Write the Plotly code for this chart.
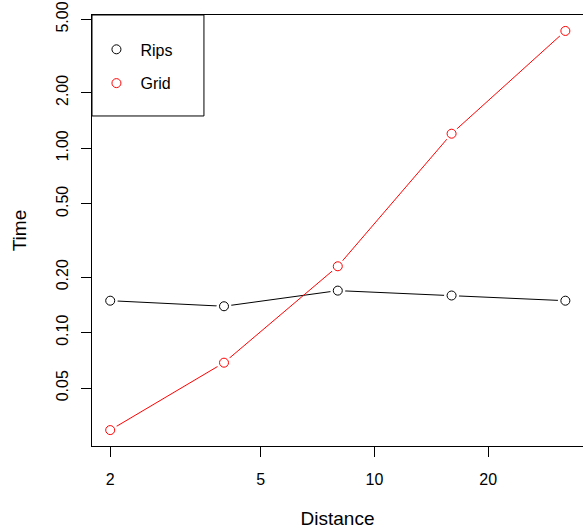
import plotly.graph_objects as go

distance = [2, 4, 8, 16, 32]
rips = [0.149, 0.139, 0.169, 0.159, 0.149]
grid = [0.0296, 0.0687, 0.229, 1.2, 4.33]

x_ticks = [2, 5, 10, 20]
x_ticktext = ["2", "5", "10", "20"]
y_ticks = [0.05, 0.1, 0.2, 0.5, 1, 2, 5]
y_ticktext = ["0.05", "0.10", "0.20", "0.50", "1.00", "2.00", "5.00"]

FONT = "Liberation Sans, Arial, Helvetica, sans-serif"

fig = go.Figure()

for name, vals, col in [("Rips", rips, "black"), ("Grid", grid, "red")]:
    fig.add_trace(go.Scatter(x=distance, y=vals, mode="lines",
                             line=dict(color=col, width=1), showlegend=False,
                             hoverinfo="skip"))
    # white halo to emulate R type="b" gaps
    fig.add_trace(go.Scatter(x=distance, y=vals, mode="markers",
                             marker=dict(symbol="circle", size=15, color="white",
                                         line=dict(width=0)),
                             showlegend=False, hoverinfo="skip"))
    fig.add_trace(go.Scatter(x=distance, y=vals, mode="markers", name=name,
                             marker=dict(symbol="circle-open", size=9, color=col,
                                         line=dict(width=1, color=col)),
                             showlegend=False))

for i, (name, col) in enumerate([("Rips", "black"), ("Grid", "red")]):
    fig.add_trace(go.Scatter(x=[None], y=[None], mode="markers", name=name,
                             legendgroup=name,
                             marker=dict(symbol="circle-open", size=9, color=col,
                                         line=dict(width=1, color=col))))

fig.add_shape(type="rect", xref="paper", yref="paper",
              x0=0, x1=0.228, y0=0.7657, y1=1,
              line=dict(color="black", width=1), fillcolor="rgba(0,0,0,0)")

fig.update_layout(
    width=583, height=531,
    margin=dict(l=92, r=0, t=15, b=85),
    paper_bgcolor="white", plot_bgcolor="white",
    font=dict(family=FONT, size=16, color="black"),
    showlegend=True,
    legend=dict(x=0.0009, y=0.9596, xanchor="left", yanchor="top",
                bgcolor="rgba(0,0,0,0)", borderwidth=0, itemwidth=38,
                font=dict(size=16), traceorder="grouped", tracegroupgap=10),
    xaxis=dict(type="log", range=[0.252865, 1.5518],
               tickvals=x_ticks, ticktext=x_ticktext,
               showgrid=False, zeroline=False,
               showline=True, linecolor="black", linewidth=1, mirror=True,
               ticks="outside", ticklen=10, tickcolor="black",
               ticklabelstandoff=9,
               title=dict(text="Distance", standoff=24)),
    yaxis=dict(type="log", range=[-1.615, 0.723],
               tickvals=y_ticks, ticktext=y_ticktext, tickangle=-90,
               showgrid=False, zeroline=False,
               showline=True, linecolor="black", linewidth=1, mirror=False,
               ticks="outside", ticklen=10, tickcolor="black",
               ticklabelstandoff=7,
               title=dict(text="Time", standoff=21)),
)

fig.write_html("out.html", config={"displayModeBar": False},
               post_script="document.body.style.margin='0';document.body.style.padding='0';")
